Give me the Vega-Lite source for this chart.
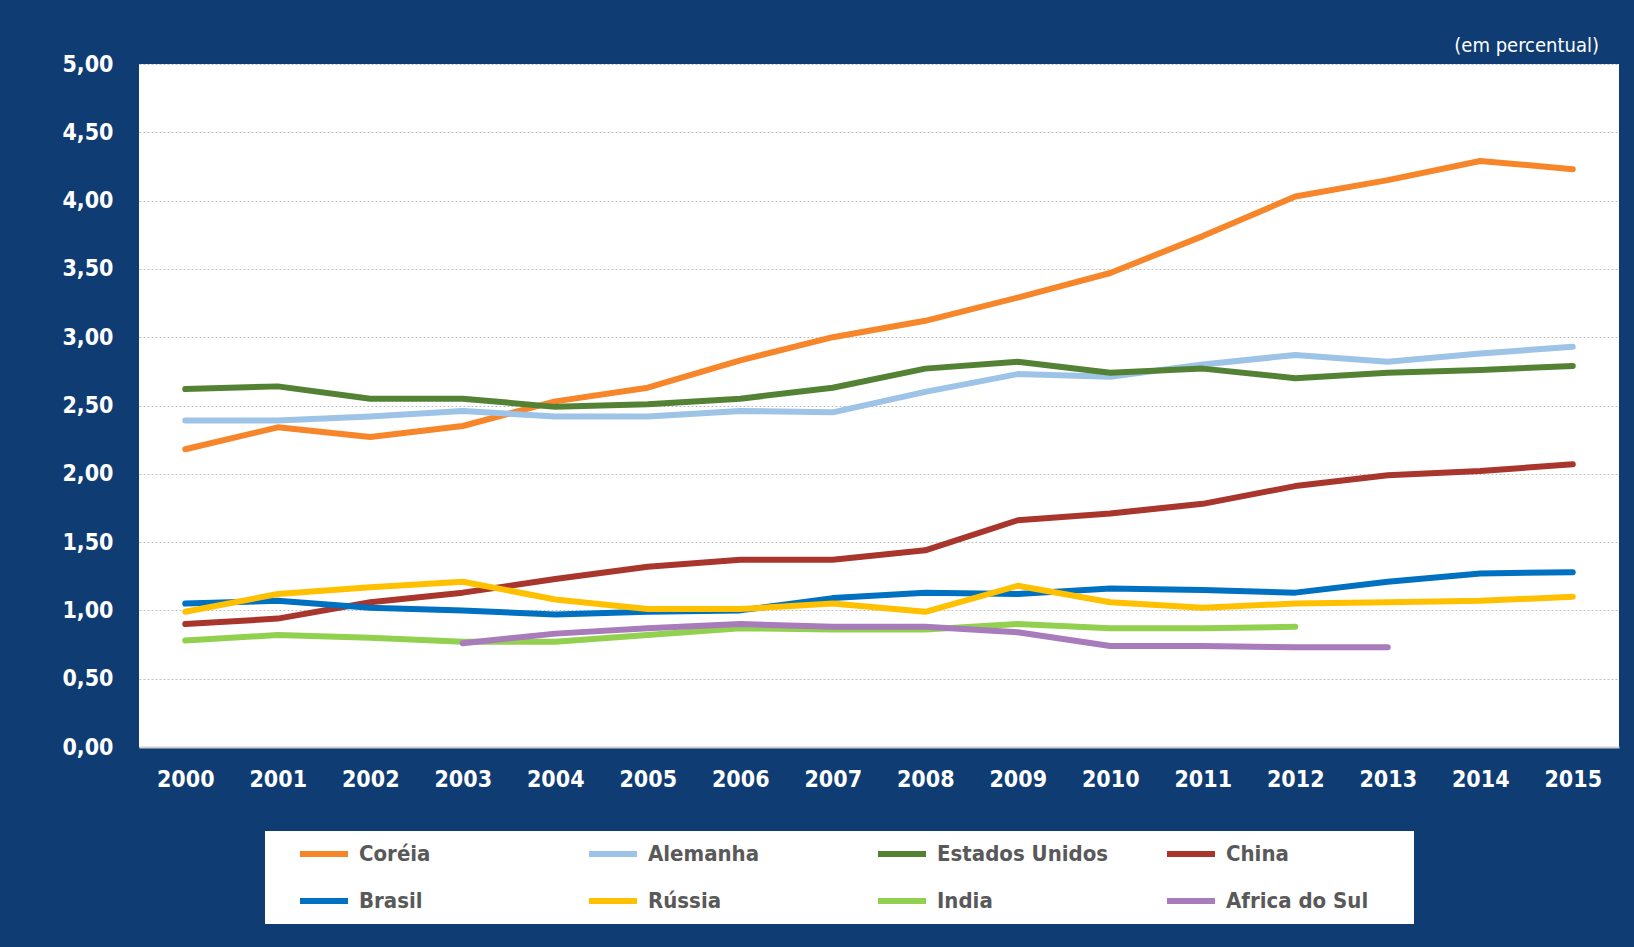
{
  "$schema": "https://vega.github.io/schema/vega-lite/v6.json",
  "width": 1480,
  "height": 683,
  "autosize": {"type": "none"},
  "padding": {"left": 139, "top": 64, "right": 15, "bottom": 200},
  "background": "#0f3c73",
  "config": {"view": {"fill": "white", "stroke": null}, "font": "DejaVu Sans Condensed, Roboto"},
  "title": {"text": "(em percentual)", "anchor": "end", "orient": "top", "color": "white", "fontSize": 20, "fontWeight": "normal", "offset": 10, "dx": -20, "dy": 13, "font": "DejaVu Sans Condensed, Roboto"},
  "data": {"values": [
    {"ano": "2000", "pais": "Coréia", "valor": 2.18}, {"ano": "2001", "pais": "Coréia", "valor": 2.34}, {"ano": "2002", "pais": "Coréia", "valor": 2.27}, {"ano": "2003", "pais": "Coréia", "valor": 2.35}, {"ano": "2004", "pais": "Coréia", "valor": 2.53}, {"ano": "2005", "pais": "Coréia", "valor": 2.63}, {"ano": "2006", "pais": "Coréia", "valor": 2.83}, {"ano": "2007", "pais": "Coréia", "valor": 3.00}, {"ano": "2008", "pais": "Coréia", "valor": 3.12}, {"ano": "2009", "pais": "Coréia", "valor": 3.29}, {"ano": "2010", "pais": "Coréia", "valor": 3.47}, {"ano": "2011", "pais": "Coréia", "valor": 3.74}, {"ano": "2012", "pais": "Coréia", "valor": 4.03}, {"ano": "2013", "pais": "Coréia", "valor": 4.15}, {"ano": "2014", "pais": "Coréia", "valor": 4.29}, {"ano": "2015", "pais": "Coréia", "valor": 4.23},
    {"ano": "2000", "pais": "Alemanha", "valor": 2.39}, {"ano": "2001", "pais": "Alemanha", "valor": 2.39}, {"ano": "2002", "pais": "Alemanha", "valor": 2.42}, {"ano": "2003", "pais": "Alemanha", "valor": 2.46}, {"ano": "2004", "pais": "Alemanha", "valor": 2.42}, {"ano": "2005", "pais": "Alemanha", "valor": 2.42}, {"ano": "2006", "pais": "Alemanha", "valor": 2.46}, {"ano": "2007", "pais": "Alemanha", "valor": 2.45}, {"ano": "2008", "pais": "Alemanha", "valor": 2.60}, {"ano": "2009", "pais": "Alemanha", "valor": 2.73}, {"ano": "2010", "pais": "Alemanha", "valor": 2.71}, {"ano": "2011", "pais": "Alemanha", "valor": 2.80}, {"ano": "2012", "pais": "Alemanha", "valor": 2.87}, {"ano": "2013", "pais": "Alemanha", "valor": 2.82}, {"ano": "2014", "pais": "Alemanha", "valor": 2.88}, {"ano": "2015", "pais": "Alemanha", "valor": 2.93},
    {"ano": "2000", "pais": "Estados Unidos", "valor": 2.62}, {"ano": "2001", "pais": "Estados Unidos", "valor": 2.64}, {"ano": "2002", "pais": "Estados Unidos", "valor": 2.55}, {"ano": "2003", "pais": "Estados Unidos", "valor": 2.55}, {"ano": "2004", "pais": "Estados Unidos", "valor": 2.49}, {"ano": "2005", "pais": "Estados Unidos", "valor": 2.51}, {"ano": "2006", "pais": "Estados Unidos", "valor": 2.55}, {"ano": "2007", "pais": "Estados Unidos", "valor": 2.63}, {"ano": "2008", "pais": "Estados Unidos", "valor": 2.77}, {"ano": "2009", "pais": "Estados Unidos", "valor": 2.82}, {"ano": "2010", "pais": "Estados Unidos", "valor": 2.74}, {"ano": "2011", "pais": "Estados Unidos", "valor": 2.77}, {"ano": "2012", "pais": "Estados Unidos", "valor": 2.70}, {"ano": "2013", "pais": "Estados Unidos", "valor": 2.74}, {"ano": "2014", "pais": "Estados Unidos", "valor": 2.76}, {"ano": "2015", "pais": "Estados Unidos", "valor": 2.79},
    {"ano": "2000", "pais": "China", "valor": 0.90}, {"ano": "2001", "pais": "China", "valor": 0.94}, {"ano": "2002", "pais": "China", "valor": 1.06}, {"ano": "2003", "pais": "China", "valor": 1.13}, {"ano": "2004", "pais": "China", "valor": 1.23}, {"ano": "2005", "pais": "China", "valor": 1.32}, {"ano": "2006", "pais": "China", "valor": 1.37}, {"ano": "2007", "pais": "China", "valor": 1.37}, {"ano": "2008", "pais": "China", "valor": 1.44}, {"ano": "2009", "pais": "China", "valor": 1.66}, {"ano": "2010", "pais": "China", "valor": 1.71}, {"ano": "2011", "pais": "China", "valor": 1.78}, {"ano": "2012", "pais": "China", "valor": 1.91}, {"ano": "2013", "pais": "China", "valor": 1.99}, {"ano": "2014", "pais": "China", "valor": 2.02}, {"ano": "2015", "pais": "China", "valor": 2.07},
    {"ano": "2000", "pais": "Brasil", "valor": 1.05}, {"ano": "2001", "pais": "Brasil", "valor": 1.07}, {"ano": "2002", "pais": "Brasil", "valor": 1.02}, {"ano": "2003", "pais": "Brasil", "valor": 1.00}, {"ano": "2004", "pais": "Brasil", "valor": 0.97}, {"ano": "2005", "pais": "Brasil", "valor": 0.99}, {"ano": "2006", "pais": "Brasil", "valor": 1.00}, {"ano": "2007", "pais": "Brasil", "valor": 1.09}, {"ano": "2008", "pais": "Brasil", "valor": 1.13}, {"ano": "2009", "pais": "Brasil", "valor": 1.12}, {"ano": "2010", "pais": "Brasil", "valor": 1.16}, {"ano": "2011", "pais": "Brasil", "valor": 1.15}, {"ano": "2012", "pais": "Brasil", "valor": 1.13}, {"ano": "2013", "pais": "Brasil", "valor": 1.21}, {"ano": "2014", "pais": "Brasil", "valor": 1.27}, {"ano": "2015", "pais": "Brasil", "valor": 1.28},
    {"ano": "2000", "pais": "Rússia", "valor": 0.99}, {"ano": "2001", "pais": "Rússia", "valor": 1.12}, {"ano": "2002", "pais": "Rússia", "valor": 1.17}, {"ano": "2003", "pais": "Rússia", "valor": 1.21}, {"ano": "2004", "pais": "Rússia", "valor": 1.08}, {"ano": "2005", "pais": "Rússia", "valor": 1.01}, {"ano": "2006", "pais": "Rússia", "valor": 1.01}, {"ano": "2007", "pais": "Rússia", "valor": 1.05}, {"ano": "2008", "pais": "Rússia", "valor": 0.99}, {"ano": "2009", "pais": "Rússia", "valor": 1.18}, {"ano": "2010", "pais": "Rússia", "valor": 1.06}, {"ano": "2011", "pais": "Rússia", "valor": 1.02}, {"ano": "2012", "pais": "Rússia", "valor": 1.05}, {"ano": "2013", "pais": "Rússia", "valor": 1.06}, {"ano": "2014", "pais": "Rússia", "valor": 1.07}, {"ano": "2015", "pais": "Rússia", "valor": 1.10},
    {"ano": "2000", "pais": "India", "valor": 0.78}, {"ano": "2001", "pais": "India", "valor": 0.82}, {"ano": "2002", "pais": "India", "valor": 0.80}, {"ano": "2003", "pais": "India", "valor": 0.77}, {"ano": "2004", "pais": "India", "valor": 0.77}, {"ano": "2005", "pais": "India", "valor": 0.82}, {"ano": "2006", "pais": "India", "valor": 0.87}, {"ano": "2007", "pais": "India", "valor": 0.86}, {"ano": "2008", "pais": "India", "valor": 0.86}, {"ano": "2009", "pais": "India", "valor": 0.90}, {"ano": "2010", "pais": "India", "valor": 0.87}, {"ano": "2011", "pais": "India", "valor": 0.87}, {"ano": "2012", "pais": "India", "valor": 0.88},
    {"ano": "2003", "pais": "Africa do Sul", "valor": 0.76}, {"ano": "2004", "pais": "Africa do Sul", "valor": 0.83}, {"ano": "2005", "pais": "Africa do Sul", "valor": 0.87}, {"ano": "2006", "pais": "Africa do Sul", "valor": 0.90}, {"ano": "2007", "pais": "Africa do Sul", "valor": 0.88}, {"ano": "2008", "pais": "Africa do Sul", "valor": 0.88}, {"ano": "2009", "pais": "Africa do Sul", "valor": 0.84}, {"ano": "2010", "pais": "Africa do Sul", "valor": 0.74}, {"ano": "2011", "pais": "Africa do Sul", "valor": 0.74}, {"ano": "2012", "pais": "Africa do Sul", "valor": 0.73}, {"ano": "2013", "pais": "Africa do Sul", "valor": 0.73}
  ]},
  "mark": {"type": "line", "strokeWidth": 6, "strokeCap": "round", "strokeJoin": "round"},
  "encoding": {
    "x": {"field": "ano", "type": "ordinal", "scale": {"type": "point", "padding": 0.5},
      "axis": {"title": null, "labelAngle": 0, "labelColor": "white", "labelFontSize": 23, "labelFontWeight": "bold", "labelPadding": 21, "ticks": false, "domain": true, "domainColor": "#d0d0d0", "domainWidth": 2, "grid": false}},
    "y": {"field": "valor", "type": "quantitative", "scale": {"domain": [0, 5], "nice": false},
      "axis": {"title": null, "values": [0, 0.5, 1, 1.5, 2, 2.5, 3, 3.5, 4, 4.5, 5], "labelExpr": "replace(format(datum.value, '.2f'), '.', ',')", "labelColor": "white", "labelFontSize": 23, "labelFontWeight": "bold", "labelPadding": 26, "ticks": false, "domain": false, "grid": true, "gridColor": "#bfbfbf", "gridDash": [2, 2], "gridWidth": 1}},
    "color": {"field": "pais", "type": "nominal",
      "scale": {"domain": ["Coréia", "Alemanha", "Estados Unidos", "China", "Brasil", "Rússia", "India", "Africa do Sul"],
        "range": ["#f7862a", "#9dc3e6", "#548235", "#a9362c", "#0070c0", "#ffc000", "#92d050", "#a87bbb"]},
      "legend": {"title": " ", "titleOrient": "right", "titlePadding": 36, "titleFontSize": 8, "orient": "none", "legendX": 126, "legendY": 767, "direction": "horizontal", "columns": 4, "gridAlign": "all", "columnPadding": 33, "rowPadding": 21, "clipHeight": 26, "fillColor": "white", "padding": 10, "symbolType": "stroke", "symbolStrokeWidth": 6, "symbolSize": 2304, "symbolOffset": 22, "labelOffset": 8, "labelFont": "DejaVu Sans Condensed, Roboto", "labelFontSize": 22, "labelFontWeight": "bold", "labelColor": "#595959", "labelLimit": 400}}
  }
}
